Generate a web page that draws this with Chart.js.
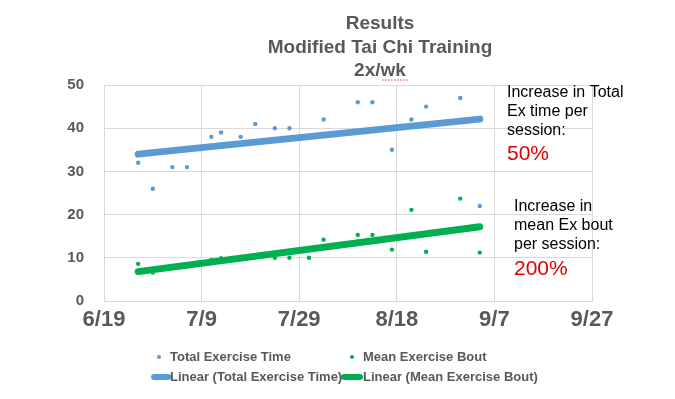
<!DOCTYPE html>
<html>
<head>
<meta charset="utf-8">
<script src="https://cdn.jsdelivr.net/npm/chart.js@4/dist/chart.umd.min.js"></script>
<style>
html,body{margin:0;padding:0;background:#fff;}
#wrap{width:675px;height:399px;position:relative;}
</style>
</head>
<body>
<div id="wrap"><canvas id="c" width="675" height="399"></canvas></div>
<script>
// ---- data ----
const titleLines = ["Results", "Modified Tai Chi Training", "2x/wk"];
const xTickLabels = ["6/19", "7/9", "7/29", "8/18", "9/7", "9/27"];
const totalDates = ["6/26","6/29","7/3","7/6","7/11","7/13","7/17","7/20","7/24","7/27","8/3","8/10","8/13","8/17","8/21","8/24","8/31","9/4"];
const totalValues = [32, 26, 31, 31, 38, 39, 38, 41, 40, 40, 42, 46, 46, 35, 42, 45, 47, 22];
const boutDates = ["6/26","6/29","7/11","7/13","7/24","7/27","7/31","8/3","8/10","8/13","8/17","8/21","8/24","8/31","9/4"];
const boutValues = [8.6, 6.6, 9.5, 9.9, 10, 10, 10, 14.2, 15.3, 15.3, 11.9, 21.1, 11.4, 23.7, 11.2];
const trendDates = ["6/26", "9/4"];
const trendTotal = [34.0, 42.1];
const trendBout = [6.8, 17.2];
const seriesNames = ["Total Exercise Time", "Mean Exercise Bout", "Linear (Total Exercise Time)", "Linear (Mean Exercise Bout)"];
const note1 = ["Increase in Total", "Ex time per", "session:"];
const note1Pct = "50%";
const note2 = ["Increase in", "mean Ex bout", "per session:"];
const note2Pct = "200%";

// day offset from first tick date
function dayOf(s){
  const [m,d] = s.split("/").map(Number);
  const [m0,d0] = xTickLabels[0].split("/").map(Number);
  return Math.round((Date.UTC(2019,m-1,d) - Date.UTC(2019,m0-1,d0)) / 86400000);
}
const pts = (dates, vals) => dates.map((d,i)=>({x:dayOf(d), y:vals[i]}));

const BLUE = "#5B9BD5", GREEN = "#00B050", GRID = "#D9D9D9", TXT = "#595959";
const FONT = "'Liberation Sans', Arial, sans-serif";

const overlay = {
  id: "overlay",
  afterDraw(chart){
    const ctx = chart.ctx;
    ctx.save();
    // title
    ctx.fillStyle = TXT;
    ctx.font = "bold 19px " + FONT;
    ctx.textAlign = "center";
    ctx.textBaseline = "middle";
    const ty = [24, 48, 71];
    titleLines.forEach((t,i)=>ctx.fillText(t, 380, ty[i]));
    // spell-check squiggle under "wk"
    ctx.strokeStyle = "#E03030"; ctx.lineWidth = 1;
    ctx.setLineDash([1.5,1.5]);
    ctx.beginPath(); ctx.moveTo(382, 80); ctx.lineTo(408, 80); ctx.stroke();
    ctx.setLineDash([]);

    // notes
    ctx.textAlign = "left";
    ctx.fillStyle = "#000";
    ctx.font = "16px " + FONT;
    note1.forEach((t,i)=>ctx.fillText(t, 507, 93 + i*19));
    ctx.fillStyle = "#E00000";
    ctx.font = "21px " + FONT;
    ctx.fillText(note1Pct, 507, 154);
    ctx.fillStyle = "#000";
    ctx.font = "16px " + FONT;
    note2.forEach((t,i)=>ctx.fillText(t, 514, 207 + i*19));
    ctx.fillStyle = "#E00000";
    ctx.font = "21px " + FONT;
    ctx.fillText(note2Pct, 514, 269);

    // legend
    const ds = chart.data.datasets;
    ctx.font = "bold 13px " + FONT;
    ctx.fillStyle = TXT;
    const y1 = 357, y2 = 377;
    ctx.fillStyle = ds[0].backgroundColor;
    ctx.beginPath(); ctx.arc(159, y1, 2, 0, Math.PI*2); ctx.fill();
    ctx.fillStyle = ds[1].backgroundColor;
    ctx.beginPath(); ctx.arc(352, y1, 2, 0, Math.PI*2); ctx.fill();
    ctx.fillStyle = TXT;
    ctx.fillText(ds[0].label, 170, y1);
    ctx.fillText(ds[1].label, 363, y1);
    ctx.lineCap = "round"; ctx.lineWidth = 6;
    ctx.strokeStyle = ds[2].borderColor;
    ctx.beginPath(); ctx.moveTo(154, y2); ctx.lineTo(168, y2); ctx.stroke();
    ctx.strokeStyle = ds[3].borderColor;
    ctx.beginPath(); ctx.moveTo(344, y2); ctx.lineTo(360, y2); ctx.stroke();
    ctx.fillText(ds[2].label, 170, y2);
    ctx.fillText(ds[3].label, 363, y2);
    ctx.restore();
  }
};

new Chart(document.getElementById("c"), {
  type: "scatter",
  data: {
    datasets: [
      {label: seriesNames[0], data: pts(totalDates,totalValues), backgroundColor: BLUE, borderColor: BLUE, pointRadius: 2.2, pointBorderWidth: 0, order: 2},
      {label: seriesNames[1], data: pts(boutDates,boutValues), backgroundColor: GREEN, borderColor: GREEN, pointRadius: 2.2, pointBorderWidth: 0, order: 2},
      {type: "line", label: seriesNames[2], data: pts(trendDates,trendTotal), borderColor: BLUE, backgroundColor: BLUE, borderWidth: 7, borderCapStyle: "round", pointRadius: 0, fill: false, order: 1},
      {type: "line", label: seriesNames[3], data: pts(trendDates,trendBout), borderColor: GREEN, backgroundColor: GREEN, borderWidth: 7, borderCapStyle: "round", pointRadius: 0, fill: false, order: 1}
    ]
  },
  options: {
    responsive: false,
    animation: false,
    devicePixelRatio: 1,
    layout: {padding: {left: 0, top: 85, right: 83, bottom: 0}},
    plugins: {legend: {display: false}, tooltip: {enabled: false}, title: {display: false}},
    scales: {
      x: {
        type: "linear", min: 0, max: 100,
        afterFit(s){ s.height = 98; },
        ticks: {stepSize: 20, padding: 6, color: TXT, font: {family: FONT, size: 22, weight: "bold"},
          callback: (v) => xTickLabels[Math.round(v/20)] ?? ""},
        grid: {color: GRID, drawTicks: false, lineWidth: 1},
        border: {color: GRID}
      },
      y: {
        min: 0, max: 50,
        afterFit(s){ s.width = 104; },
        ticks: {stepSize: 10, padding: 20, color: TXT, font: {family: FONT, size: 15, weight: "bold"}},
        grid: {color: GRID, drawTicks: false, lineWidth: 1},
        border: {color: GRID}
      }
    }
  },
  plugins: [overlay]
});
</script>
</body>
</html>
